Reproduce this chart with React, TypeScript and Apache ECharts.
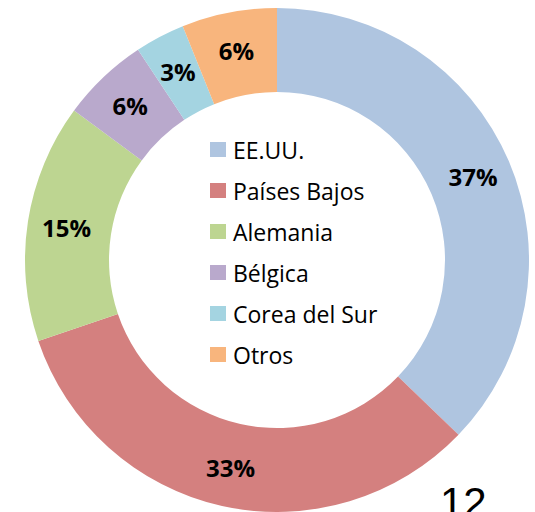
import React, { useEffect, useRef } from "react";
import * as echarts from "echarts";

const categories = ["EE.UU.", "Países Bajos", "Alemania", "Bélgica", "Corea del Sur", "Otros"];
const shares = [37.2, 32.6, 15.3, 5.6, 3.2, 6.1];
const colors = ["#AFC5E0", "#D4807F", "#BDD591", "#B9A9CC", "#A4D4E1", "#F8B57D"];
const pageNumber = "12";

export default function App() {
  const ref = useRef<HTMLDivElement>(null);
  useEffect(() => {
    if (!ref.current) return;
    const chart = echarts.init(ref.current, null, { renderer: "svg" });
    chart.setOption({
      animation: false,
      backgroundColor: "#ffffff",
      color: colors,
      legend: {
        orient: "vertical",
        left: 205,
        top: 133,
        icon: "rect",
        itemWidth: 16,
        itemHeight: 15,
        itemGap: 18,
        data: categories,
        selectedMode: false,
        textStyle: {
          fontFamily: "Open Sans",
          fontSize: 23,
          color: "#000000",
          padding: [0, 0, 0, 2],
        },
      },
      series: [
        {
          type: "pie",
          center: [277, 260],
          radius: [168, 252],
          startAngle: 90,
          clockwise: true,
          avoidLabelOverlap: false,
          label: {
            show: true,
            position: "inside",
            formatter: (p: any) => Math.round(p.percent) + "%",
            fontFamily: "Open Sans",
            fontWeight: "bold",
            fontSize: 24,
            color: "#000000",
          },
          labelLine: { show: false },
          emphasis: { disabled: true },
          itemStyle: { borderWidth: 0 },
          data: categories.map((name, i) => ({ name, value: shares[i] })),
        },
      ],
      graphic: [
        {
          type: "text",
          left: 440,
          top: 481,
          style: {
            text: pageNumber,
            fontFamily: "Liberation Sans",
            fontSize: 42,
            fill: "#000000",
          },
        },
      ],
    });
    return () => chart.dispose();
  }, []);
  return (
    <div
      ref={ref}
      style={{ position: "fixed", left: 0, top: 0, width: 535, height: 512 }}
    />
  );
}
